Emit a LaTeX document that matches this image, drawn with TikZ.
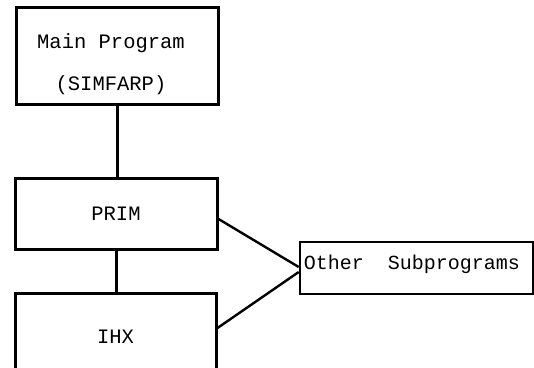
\documentclass[tikz,border=0pt]{standalone}
\usepackage{fontspec}
\setmonofont{Liberation Mono}
\begin{document}
\begin{tikzpicture}[x=1pt,y=-1pt,
  boxfont/.style={font=\ttfamily\fontsize{20.5}{24}\selectfont},
  box/.style={draw=black,line width=3pt,fill=white,inner sep=0pt,boxfont,align=center},
  link/.style={draw=black,line width=3pt},
  thin link/.style={draw=black,line width=2.4pt}]
\useasboundingbox (0,0) rectangle (534,367);
\fill[white] (0,0) rectangle (534,367);
\node[box,minimum width=202pt,minimum height=97pt] (main) at (117,56) {};
\node[inner sep=0pt,boxfont,align=center] (maintext) at (111,64)
  {Main Program\\[18pt](SIMFARP)};
\node[box,minimum width=202pt,minimum height=71pt] (prim) at (116,213.5) {PRIM};
\node[box,minimum width=201pt,minimum height=88pt] (ihx) at (115.5,337) {IHX};
\node[box,minimum width=233pt,minimum height=52pt,line width=2.6pt] (other) at (416.5,268) {};
\node[anchor=west,inner sep=0pt,font=\ttfamily\fontsize{20}{22}\selectfont] (othertext)
  at ([xshift=5pt,yshift=4pt]other.west) {Other\ \ Subprograms};
\draw[link] (main.south) -- (main.south |- prim.north);
\draw[link] (prim.south) -- (prim.south |- ihx.north);
\coordinate (j1) at ([yshift=1pt]other.west);
\coordinate (j2) at ([yshift=-4pt]other.west);
\draw[thin link] ([yshift=-5.5pt]prim.east) -- (j1);
\draw[thin link] ([yshift=9pt]ihx.east) -- (j2);
\end{tikzpicture}
\end{document}
